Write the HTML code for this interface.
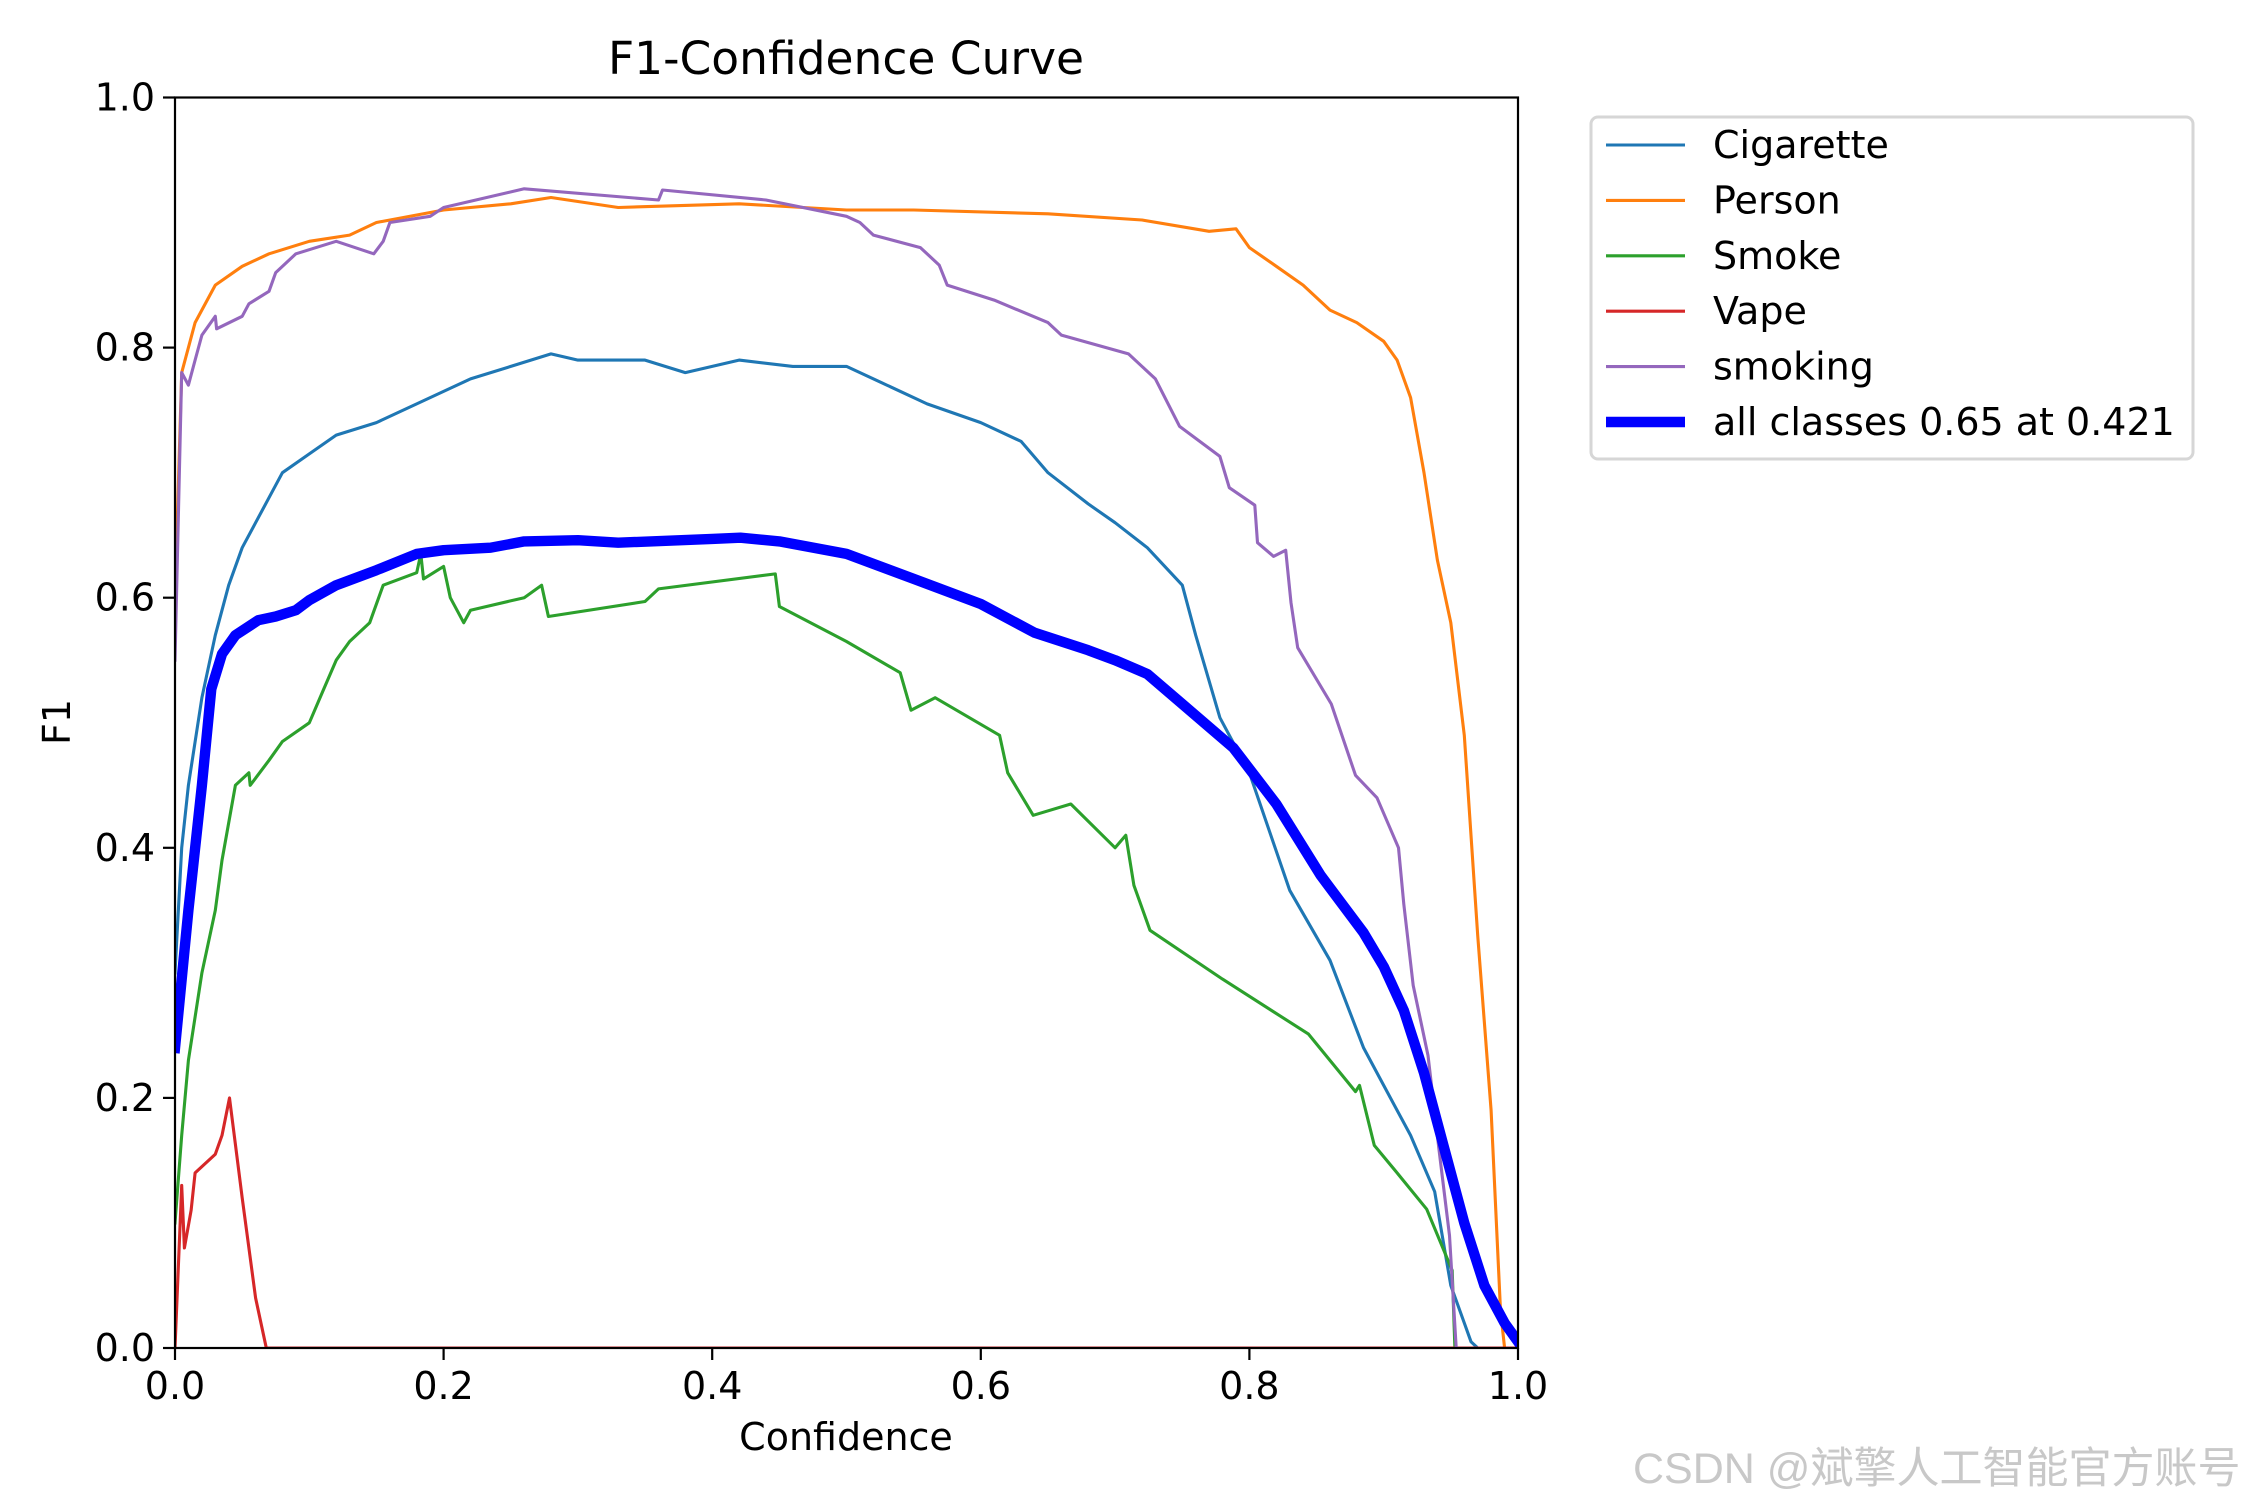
<!DOCTYPE html>
<html><head><meta charset="utf-8"><style>
html,body{margin:0;padding:0;background:#fff}
svg{display:block;font-family:"DejaVu Sans","Liberation Sans",sans-serif}
</style></head><body>
<svg id="chart" width="2250" height="1500" viewBox="0 0 2250 1500">
<defs><clipPath id="clip"><rect x="175" y="97.5" width="1343" height="1250.5"/></clipPath></defs>
<rect width="2250" height="1500" fill="#fff"/>
<text x="846" y="74" font-size="45.5" text-anchor="middle">F1-Confidence Curve</text>
<g id="series" clip-path="url(#clip)"></g>
<rect x="175" y="97.5" width="1343" height="1250.5" fill="none" stroke="#000" stroke-width="2.2"/>
<g id="xticks"></g>
<g id="yticks"></g>
<text x="846" y="1450" font-size="38" text-anchor="middle">Confidence</text>
<text x="70" y="722" font-size="38" text-anchor="middle" transform="rotate(-90 70 722)">F1</text>
<g id="legend">
<rect x="1591" y="117" width="602" height="342" rx="7" fill="#fff" fill-opacity="0.8" stroke="#d6d6d6" stroke-width="3"/>
</g>
</svg>
<script>
const xTickVals=[0,0.2,0.4,0.6,0.8,1.0];
const yTickVals=[0,0.2,0.4,0.6,0.8,1.0];
const tickLabels=["0.0","0.2","0.4","0.6","0.8","1.0"];
const seriesNames=["Cigarette","Person","Smoke","Vape","smoking","all classes 0.65 at 0.421"];
const seriesColors=["#1f77b4","#ff7f0e","#2ca02c","#d62728","#9467bd","#0000ff"];
const cigX=[0,0.005,0.01,0.02,0.03,0.04,0.05,0.06,0.07,0.08,0.1,0.12,0.15,0.18,0.2,0.22,0.25,0.28,0.3,0.35,0.38,0.42,0.46,0.5,0.53,0.56,0.6,0.63,0.65,0.68,0.7,0.724,0.75,0.76,0.778,0.8,0.83,0.86,0.885,0.9,0.92,0.938,0.95,0.96,0.965,0.97];
const cigY=[0.3,0.4,0.45,0.52,0.57,0.61,0.64,0.66,0.68,0.7,0.715,0.73,0.74,0.755,0.765,0.775,0.785,0.795,0.79,0.79,0.78,0.79,0.785,0.785,0.77,0.755,0.74,0.725,0.7,0.675,0.66,0.64,0.61,0.57,0.504,0.46,0.366,0.31,0.24,0.21,0.17,0.125,0.05,0.02,0.005,0];
const perX=[0,0.005,0.015,0.03,0.05,0.07,0.1,0.13,0.15,0.2,0.25,0.28,0.33,0.42,0.5,0.55,0.65,0.72,0.77,0.79,0.8,0.82,0.84,0.86,0.88,0.9,0.91,0.92,0.93,0.94,0.95,0.96,0.97,0.98,0.987,0.99,1.0];
const perY=[0.6,0.78,0.82,0.85,0.865,0.875,0.885,0.89,0.9,0.91,0.915,0.92,0.912,0.915,0.91,0.91,0.907,0.902,0.893,0.895,0.88,0.865,0.85,0.83,0.82,0.805,0.79,0.76,0.7,0.63,0.58,0.49,0.33,0.19,0.03,0,0];
const smoX=[0,0.005,0.01,0.02,0.03,0.035,0.04,0.045,0.055,0.056,0.07,0.08,0.1,0.11,0.12,0.13,0.145,0.155,0.18,0.183,0.185,0.2,0.205,0.215,0.22,0.26,0.273,0.278,0.35,0.36,0.447,0.45,0.5,0.54,0.548,0.566,0.614,0.62,0.639,0.667,0.7,0.708,0.714,0.726,0.78,0.844,0.879,0.882,0.893,0.91,0.932,0.951,0.953];
const smoY=[0.1,0.17,0.23,0.3,0.35,0.39,0.42,0.45,0.46,0.45,0.47,0.485,0.5,0.525,0.55,0.565,0.58,0.61,0.62,0.635,0.615,0.625,0.6,0.58,0.59,0.6,0.61,0.585,0.597,0.607,0.619,0.593,0.565,0.54,0.51,0.52,0.49,0.46,0.426,0.435,0.4,0.41,0.37,0.334,0.295,0.251,0.205,0.21,0.162,0.14,0.111,0.062,0];
const vapX=[0,0.005,0.007,0.012,0.015,0.03,0.035,0.0406,0.05,0.06,0.068,1.0];
const vapY=[0,0.13,0.08,0.11,0.14,0.155,0.17,0.2,0.12,0.04,0,0];
const smkX=[0,0.005,0.01,0.015,0.02,0.03,0.031,0.05,0.055,0.07,0.075,0.09,0.12,0.148,0.155,0.16,0.19,0.2,0.26,0.36,0.363,0.44,0.5,0.51,0.52,0.555,0.569,0.575,0.61,0.65,0.66,0.71,0.73,0.748,0.778,0.785,0.804,0.806,0.818,0.827,0.831,0.836,0.861,0.879,0.895,0.911,0.915,0.922,0.933,0.941,0.949,0.954];
const smkY=[0.55,0.78,0.77,0.79,0.81,0.825,0.815,0.825,0.835,0.845,0.86,0.875,0.885,0.875,0.885,0.9,0.905,0.912,0.927,0.918,0.926,0.918,0.905,0.9,0.89,0.88,0.866,0.85,0.838,0.82,0.81,0.795,0.775,0.737,0.713,0.688,0.674,0.644,0.633,0.638,0.596,0.56,0.515,0.458,0.44,0.4,0.355,0.29,0.234,0.16,0.09,0];
const allX=[0,0.01,0.02,0.027,0.035,0.045,0.062,0.075,0.09,0.1,0.12,0.15,0.18,0.2,0.235,0.26,0.3,0.33,0.4,0.421,0.45,0.5,0.55,0.6,0.64,0.68,0.7,0.724,0.75,0.788,0.82,0.853,0.885,0.9,0.915,0.93,0.945,0.96,0.975,0.99,1.0];
const allY=[0.24,0.35,0.45,0.527,0.555,0.57,0.582,0.585,0.59,0.598,0.61,0.622,0.635,0.638,0.64,0.645,0.646,0.644,0.647,0.648,0.645,0.635,0.615,0.595,0.572,0.558,0.55,0.539,0.515,0.48,0.435,0.378,0.332,0.305,0.27,0.22,0.16,0.1,0.05,0.02,0.005];
const seriesX=[cigX,perX,smoX,vapX,smkX,allX];
const seriesY=[cigY,perY,smoY,vapY,smkY,allY];
const seriesKeys=["cigarette","person","smoke","vape","smoking","all-classes"];
const NS="http://www.w3.org/2000/svg";
const L=175,R=1518,T=97.5,B=1348;
function X(c){return L+c*(R-L);}
function Y(v){return B-v*(B-T);}
function el(tag,attrs,parent){const e=document.createElementNS(NS,tag);for(const k in attrs)e.setAttribute(k,attrs[k]);parent.appendChild(e);return e;}
const sg=document.getElementById('series');
for(let s=0;s<seriesX.length;s++){
  const pts=seriesX[s].map((x,i)=>X(x).toFixed(1)+','+Y(seriesY[s][i]).toFixed(1)).join(' ');
  const p=el('polyline',{points:pts,fill:'none',stroke:seriesColors[s],'stroke-width':s===5?10.4:3.1,'stroke-linejoin':'round','stroke-linecap':'square'},sg);
  
  
}
const xg=document.getElementById('xticks');
xTickVals.forEach((v,i)=>{
  const ln=el('line',{x1:X(v),x2:X(v),y1:B,y2:B+12,stroke:'#000','stroke-width':2.2},xg);
  
  
  const t=el('text',{x:X(v),y:B+51,'font-size':38,'text-anchor':'middle'},xg);
  t.textContent=tickLabels[i];
  
  
});
const yg=document.getElementById('yticks');
yTickVals.forEach((v,i)=>{
  const ln=el('line',{x1:L-12,x2:L,y1:Y(v),y2:Y(v),stroke:'#000','stroke-width':2.2},yg);
  
  
  const t=el('text',{x:L-20,y:Y(v)+13,'font-size':38,'text-anchor':'end'},yg);
  t.textContent=tickLabels[i];
  
  
});
const lg=document.getElementById('legend');
seriesNames.forEach((n,i)=>{
  const y=145+i*55.4;
  const ln=el('line',{x1:1606,x2:1685,y1:y,y2:y,stroke:seriesColors[i],'stroke-width':i===5?10.4:3.1},lg);
  
  
  const t=el('text',{x:1713,y:y+13,'font-size':38},lg);
  t.textContent=n;
  
  
});
</script>
<div style="position:absolute;left:1633px;top:1434px;font:43px 'Liberation Sans','Noto Sans CJK SC',sans-serif;color:#c8c8c8;white-space:nowrap">CSDN @斌擎人工智能官方账号</div>
</body></html>
